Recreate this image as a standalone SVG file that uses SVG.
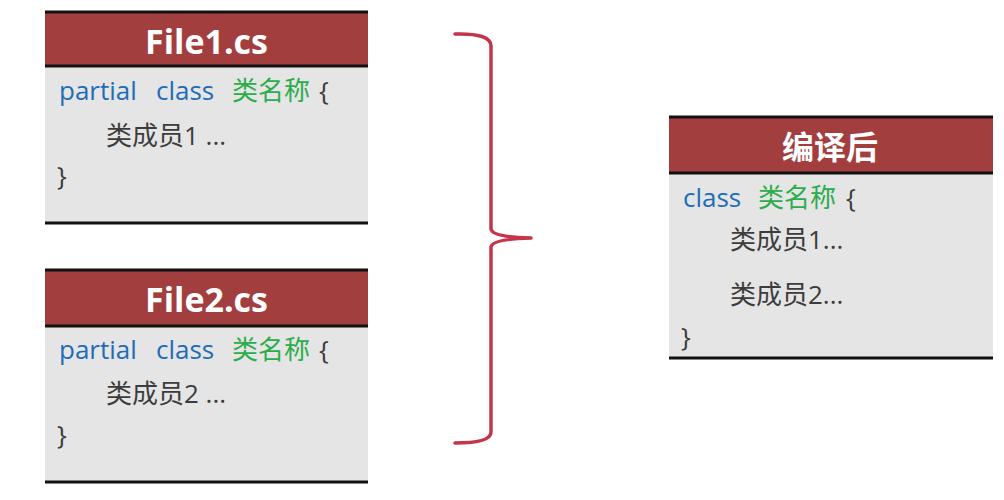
<svg xmlns="http://www.w3.org/2000/svg" width="1004" height="500" viewBox="0 0 1004 500">
<style>
.hdr{fill:#a33e3e}
.body{fill:#e5e5e5}
.rule{stroke:#111;stroke-width:3}
.t{font-family:"Open Sans","Noto Sans CJK SC",sans-serif;font-size:26px;fill:#3c3c3c}
.kw{fill:#1f6cb8}
.nm{fill:#2aad4a}
.h{font-family:"Open Sans","Noto Sans CJK SC",sans-serif;font-size:34px;font-weight:bold;fill:#fff;text-anchor:middle}
.brace{fill:none;stroke:#c4354a;stroke-width:3.5;stroke-linecap:round;stroke-linejoin:round}
</style>
<rect width="1004" height="500" fill="#fff"/>
<g id="file1">
<rect class="hdr" x="45" y="12" width="323" height="54"/>
<rect class="body" x="45" y="66" width="323" height="157"/>
<line class="rule" x1="45" y1="12" x2="368" y2="12"/>
<line class="rule" x1="45" y1="66" x2="368" y2="66"/>
<line class="rule" x1="45" y1="223" x2="368" y2="223"/>
<text class="h" x="206.5" y="54">File1.cs</text>
<text class="t kw" x="59" y="100">partial</text>
<text class="t kw" x="156" y="100">class</text>
<text class="t nm" x="232" y="100">类名称</text>
<text class="t" x="319" y="100">{</text>
<text class="t" x="106" y="145">类成员1 ...</text>
<text class="t" x="57" y="185">}</text>
</g>
<g id="file2">
<rect class="hdr" x="45" y="270" width="323" height="56"/>
<rect class="body" x="45" y="326" width="323" height="156"/>
<line class="rule" x1="45" y1="270" x2="368" y2="270"/>
<line class="rule" x1="45" y1="326" x2="368" y2="326"/>
<line class="rule" x1="45" y1="482" x2="368" y2="482"/>
<text class="h" x="206.5" y="312">File2.cs</text>
<text class="t kw" x="59" y="359">partial</text>
<text class="t kw" x="156" y="359">class</text>
<text class="t nm" x="232" y="359">类名称</text>
<text class="t" x="319" y="359">{</text>
<text class="t" x="106" y="403">类成员2 ...</text>
<text class="t" x="57" y="444">}</text>
</g>
<g id="compiled">
<rect class="hdr" x="669" y="117" width="324" height="56"/>
<rect class="body" x="669" y="173" width="324" height="185"/>
<line class="rule" x1="669" y1="117" x2="993" y2="117"/>
<line class="rule" x1="669" y1="173" x2="993" y2="173"/>
<line class="rule" x1="669" y1="358" x2="993" y2="358"/>
<text class="h" x="830" y="159" style="font-size:32px">编译后</text>
<text class="t kw" x="683" y="207">class</text>
<text class="t nm" x="758" y="207">类名称</text>
<text class="t" x="846" y="207">{</text>
<text class="t" x="730" y="249">类成员1...</text>
<text class="t" x="730" y="304">类成员2...</text>
<text class="t" x="681" y="346">}</text>
</g>
<g id="connectors">
<path class="brace" d="M455,34 Q491,33 491,46 L491,229 Q492,237 531,238 Q492,239 491,247 L491,432 Q491,443 455,443"/>
</g>
</svg>
